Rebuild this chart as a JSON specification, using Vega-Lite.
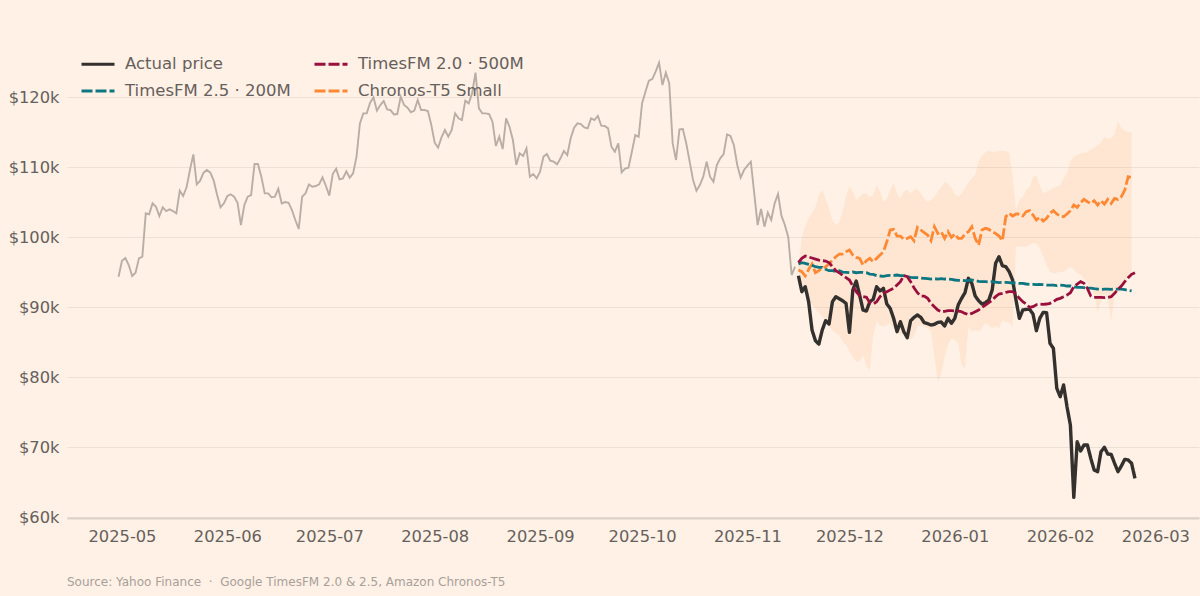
{
"$schema":"https://vega.github.io/schema/vega-lite/v6.json",
"description":"Bitcoin price vs TimesFM and Chronos forecasts",
"autosize":"none",
"width":1132,
"height":476,
"padding":{"left":67,"top":42,"right":1,"bottom":78},
"background":"#fff1e5",
"title":{"text":"Source: Yahoo Finance \u00a0·\u00a0 Google TimesFM 2.0 & 2.5, Amazon Chronos-T5","orient":"bottom","anchor":"start","frame":"group","offset":33,"fontSize":12,"fontWeight":"normal","color":"#a8a099","font":"DejaVu Sans"},
"config":{"font":"DejaVu Sans","view":{"stroke":null}},
"datasets":{
"history":[
{"date":"2025-04-30","k":94.33},{"date":"2025-05-01","k":96.62},{"date":"2025-05-02","k":97.0},{"date":"2025-05-03","k":96.0},{"date":"2025-05-04","k":94.43},{"date":"2025-05-05","k":94.9},{"date":"2025-05-06","k":96.95},{"date":"2025-05-07","k":97.19},{"date":"2025-05-08","k":103.38},{"date":"2025-05-09","k":103.24},{"date":"2025-05-10","k":104.81},{"date":"2025-05-11","k":104.33},{"date":"2025-05-12","k":103.0},{"date":"2025-05-13","k":104.24},{"date":"2025-05-14","k":103.71},{"date":"2025-05-15","k":103.95},{"date":"2025-05-16","k":103.71},{"date":"2025-05-17","k":103.38},{"date":"2025-05-18","k":106.62},{"date":"2025-05-19","k":105.86},{"date":"2025-05-20","k":107.1},{"date":"2025-05-21","k":109.57},{"date":"2025-05-22","k":111.81},{"date":"2025-05-23","k":107.52},{"date":"2025-05-24","k":108.05},{"date":"2025-05-25","k":109.19},{"date":"2025-05-26","k":109.57},{"date":"2025-05-27","k":109.19},{"date":"2025-05-28","k":108.05},{"date":"2025-05-29","k":106.0},{"date":"2025-05-30","k":104.24},{"date":"2025-05-31","k":104.81},
{"date":"2025-06-01","k":105.86},{"date":"2025-06-02","k":106.1},{"date":"2025-06-03","k":105.76},{"date":"2025-06-04","k":104.9},{"date":"2025-06-05","k":101.71},{"date":"2025-06-06","k":104.57},{"date":"2025-06-07","k":105.76},{"date":"2025-06-08","k":106.0},{"date":"2025-06-09","k":110.43},{"date":"2025-06-10","k":110.43},{"date":"2025-06-11","k":108.62},{"date":"2025-06-12","k":106.24},{"date":"2025-06-13","k":106.24},{"date":"2025-06-14","k":105.67},{"date":"2025-06-15","k":105.76},{"date":"2025-06-16","k":106.9},{"date":"2025-06-17","k":104.81},{"date":"2025-06-18","k":105.0},{"date":"2025-06-19","k":104.9},{"date":"2025-06-20","k":103.86},{"date":"2025-06-21","k":102.43},{"date":"2025-06-22","k":101.14},{"date":"2025-06-23","k":105.76},{"date":"2025-06-24","k":106.24},{"date":"2025-06-25","k":107.52},{"date":"2025-06-26","k":107.19},{"date":"2025-06-27","k":107.29},{"date":"2025-06-28","k":107.52},{"date":"2025-06-29","k":108.52},{"date":"2025-06-30","k":107.29},
{"date":"2025-07-01","k":105.9},{"date":"2025-07-02","k":109.0},{"date":"2025-07-03","k":109.76},{"date":"2025-07-04","k":108.24},{"date":"2025-07-05","k":108.38},{"date":"2025-07-06","k":109.38},{"date":"2025-07-07","k":108.48},{"date":"2025-07-08","k":109.1},{"date":"2025-07-09","k":111.48},{"date":"2025-07-10","k":116.24},{"date":"2025-07-11","k":117.67},{"date":"2025-07-12","k":117.67},{"date":"2025-07-13","k":119.19},{"date":"2025-07-14","k":119.95},{"date":"2025-07-15","k":118.05},{"date":"2025-07-16","k":118.86},{"date":"2025-07-17","k":119.43},{"date":"2025-07-18","k":118.24},{"date":"2025-07-19","k":118.14},{"date":"2025-07-20","k":117.52},{"date":"2025-07-21","k":117.57},{"date":"2025-07-22","k":120.05},{"date":"2025-07-23","k":118.86},{"date":"2025-07-24","k":118.48},{"date":"2025-07-25","k":117.81},{"date":"2025-07-26","k":118.05},{"date":"2025-07-27","k":119.57},{"date":"2025-07-28","k":118.14},{"date":"2025-07-29","k":118.14},{"date":"2025-07-30","k":118.0},{"date":"2025-07-31","k":116.0},
{"date":"2025-08-01","k":113.48},{"date":"2025-08-02","k":112.76},{"date":"2025-08-03","k":114.24},{"date":"2025-08-04","k":115.29},{"date":"2025-08-05","k":114.33},{"date":"2025-08-06","k":115.29},{"date":"2025-08-07","k":117.67},{"date":"2025-08-08","k":116.95},{"date":"2025-08-09","k":116.71},{"date":"2025-08-10","k":119.48},{"date":"2025-08-11","k":119.1},{"date":"2025-08-12","k":120.52},{"date":"2025-08-13","k":123.48},{"date":"2025-08-14","k":118.38},{"date":"2025-08-15","k":117.67},{"date":"2025-08-16","k":117.67},{"date":"2025-08-17","k":117.57},{"date":"2025-08-18","k":116.48},{"date":"2025-08-19","k":113.0},{"date":"2025-08-20","k":114.33},{"date":"2025-08-21","k":112.57},{"date":"2025-08-22","k":116.95},{"date":"2025-08-23","k":115.76},{"date":"2025-08-24","k":113.86},{"date":"2025-08-25","k":110.29},{"date":"2025-08-26","k":111.95},{"date":"2025-08-27","k":111.57},{"date":"2025-08-28","k":112.67},{"date":"2025-08-29","k":108.62},{"date":"2025-08-30","k":109.0},{"date":"2025-08-31","k":108.38},
{"date":"2025-09-01","k":109.33},{"date":"2025-09-02","k":111.48},{"date":"2025-09-03","k":111.86},{"date":"2025-09-04","k":110.9},{"date":"2025-09-05","k":110.76},{"date":"2025-09-06","k":110.38},{"date":"2025-09-07","k":111.24},{"date":"2025-09-08","k":112.29},{"date":"2025-09-09","k":111.71},{"date":"2025-09-10","k":114.1},{"date":"2025-09-11","k":115.62},{"date":"2025-09-12","k":116.24},{"date":"2025-09-13","k":116.14},{"date":"2025-09-14","k":115.67},{"date":"2025-09-15","k":115.52},{"date":"2025-09-16","k":116.95},{"date":"2025-09-17","k":116.71},{"date":"2025-09-18","k":117.29},{"date":"2025-09-19","k":115.9},{"date":"2025-09-20","k":115.86},{"date":"2025-09-21","k":115.52},{"date":"2025-09-22","k":112.9},{"date":"2025-09-23","k":112.19},{"date":"2025-09-24","k":113.38},{"date":"2025-09-25","k":109.24},{"date":"2025-09-26","k":109.76},{"date":"2025-09-27","k":109.9},{"date":"2025-09-28","k":112.19},{"date":"2025-09-29","k":114.57},{"date":"2025-09-30","k":114.33},
{"date":"2025-10-01","k":119.1},{"date":"2025-10-02","k":120.76},{"date":"2025-10-03","k":122.33},{"date":"2025-10-04","k":122.57},{"date":"2025-10-05","k":123.62},{"date":"2025-10-06","k":124.9},{"date":"2025-10-07","k":121.71},{"date":"2025-10-08","k":123.48},{"date":"2025-10-09","k":121.95},{"date":"2025-10-10","k":113.38},{"date":"2025-10-11","k":111.0},{"date":"2025-10-12","k":115.38},{"date":"2025-10-13","k":115.43},{"date":"2025-10-14","k":113.38},{"date":"2025-10-15","k":110.76},{"date":"2025-10-16","k":108.14},{"date":"2025-10-17","k":106.62},{"date":"2025-10-18","k":107.43},{"date":"2025-10-19","k":108.62},{"date":"2025-10-20","k":110.76},{"date":"2025-10-21","k":108.62},{"date":"2025-10-22","k":107.9},{"date":"2025-10-23","k":110.29},{"date":"2025-10-24","k":111.24},{"date":"2025-10-25","k":111.86},{"date":"2025-10-26","k":114.67},{"date":"2025-10-27","k":114.43},{"date":"2025-10-28","k":113.14},{"date":"2025-10-29","k":110.29},{"date":"2025-10-30","k":108.48},{"date":"2025-10-31","k":109.57},
{"date":"2025-11-01","k":110.19},{"date":"2025-11-02","k":110.76},{"date":"2025-11-03","k":106.24},{"date":"2025-11-04","k":101.71},{"date":"2025-11-05","k":104.0},{"date":"2025-11-06","k":101.48},{"date":"2025-11-07","k":103.48},{"date":"2025-11-08","k":102.43},{"date":"2025-11-09","k":104.81},{"date":"2025-11-10","k":106.14},{"date":"2025-11-11","k":103.05},{"date":"2025-11-12","k":101.71},{"date":"2025-11-13","k":100.0},{"date":"2025-11-14","k":94.57},{"date":"2025-11-15","k":95.76}
],
"actual":[
{"date":"2025-11-16","k":94.47,"model":"Actual price"},{"date":"2025-11-17","k":92.19,"model":"Actual price"},{"date":"2025-11-18","k":92.9,"model":"Actual price"},{"date":"2025-11-19","k":90.76,"model":"Actual price"},{"date":"2025-11-20","k":86.71,"model":"Actual price"},{"date":"2025-11-21","k":85.19,"model":"Actual price"},{"date":"2025-11-22","k":84.71,"model":"Actual price"},{"date":"2025-11-23","k":86.71,"model":"Actual price"},{"date":"2025-11-24","k":88.05,"model":"Actual price"},{"date":"2025-11-25","k":87.57,"model":"Actual price"},{"date":"2025-11-26","k":90.76,"model":"Actual price"},{"date":"2025-11-27","k":91.48,"model":"Actual price"},{"date":"2025-11-28","k":91.19,"model":"Actual price"},{"date":"2025-11-29","k":90.9,"model":"Actual price"},{"date":"2025-11-30","k":90.52,"model":"Actual price"},
{"date":"2025-12-01","k":86.38,"model":"Actual price"},{"date":"2025-12-02","k":92.43,"model":"Actual price"},{"date":"2025-12-03","k":93.71,"model":"Actual price"},{"date":"2025-12-04","k":91.71,"model":"Actual price"},{"date":"2025-12-05","k":89.57,"model":"Actual price"},{"date":"2025-12-06","k":89.43,"model":"Actual price"},{"date":"2025-12-07","k":90.76,"model":"Actual price"},{"date":"2025-12-08","k":91.1,"model":"Actual price"},{"date":"2025-12-09","k":92.9,"model":"Actual price"},{"date":"2025-12-10","k":92.29,"model":"Actual price"},{"date":"2025-12-11","k":92.67,"model":"Actual price"},{"date":"2025-12-12","k":90.43,"model":"Actual price"},{"date":"2025-12-13","k":89.8,"model":"Actual price"},{"date":"2025-12-14","k":88.38,"model":"Actual price"},{"date":"2025-12-15","k":86.48,"model":"Actual price"},{"date":"2025-12-16","k":87.9,"model":"Actual price"},{"date":"2025-12-17","k":86.48,"model":"Actual price"},{"date":"2025-12-18","k":85.62,"model":"Actual price"},{"date":"2025-12-19","k":88.05,"model":"Actual price"},{"date":"2025-12-20","k":88.52,"model":"Actual price"},{"date":"2025-12-21","k":88.86,"model":"Actual price"},{"date":"2025-12-22","k":88.52,"model":"Actual price"},{"date":"2025-12-23","k":87.76,"model":"Actual price"},{"date":"2025-12-24","k":87.62,"model":"Actual price"},{"date":"2025-12-25","k":87.43,"model":"Actual price"},{"date":"2025-12-26","k":87.52,"model":"Actual price"},{"date":"2025-12-27","k":87.81,"model":"Actual price"},{"date":"2025-12-28","k":87.86,"model":"Actual price"},{"date":"2025-12-29","k":87.29,"model":"Actual price"},{"date":"2025-12-30","k":88.38,"model":"Actual price"},{"date":"2025-12-31","k":87.67,"model":"Actual price"},
{"date":"2026-01-01","k":88.38,"model":"Actual price"},{"date":"2026-01-02","k":90.3,"model":"Actual price"},{"date":"2026-01-03","k":91.24,"model":"Actual price"},{"date":"2026-01-04","k":92.05,"model":"Actual price"},{"date":"2026-01-05","k":94.1,"model":"Actual price"},{"date":"2026-01-06","k":93.38,"model":"Actual price"},{"date":"2026-01-07","k":91.57,"model":"Actual price"},{"date":"2026-01-08","k":90.9,"model":"Actual price"},{"date":"2026-01-09","k":90.43,"model":"Actual price"},{"date":"2026-01-10","k":90.62,"model":"Actual price"},{"date":"2026-01-11","k":91.0,"model":"Actual price"},{"date":"2026-01-12","k":92.43,"model":"Actual price"},{"date":"2026-01-13","k":96.24,"model":"Actual price"},{"date":"2026-01-14","k":97.19,"model":"Actual price"},{"date":"2026-01-15","k":95.9,"model":"Actual price"},{"date":"2026-01-16","k":95.76,"model":"Actual price"},{"date":"2026-01-17","k":95.05,"model":"Actual price"},{"date":"2026-01-18","k":93.86,"model":"Actual price"},{"date":"2026-01-19","k":91.0,"model":"Actual price"},{"date":"2026-01-20","k":88.38,"model":"Actual price"},{"date":"2026-01-21","k":89.57,"model":"Actual price"},{"date":"2026-01-22","k":89.67,"model":"Actual price"},{"date":"2026-01-23","k":89.67,"model":"Actual price"},{"date":"2026-01-24","k":89.0,"model":"Actual price"},{"date":"2026-01-25","k":86.62,"model":"Actual price"},{"date":"2026-01-26","k":88.38,"model":"Actual price"},{"date":"2026-01-27","k":89.24,"model":"Actual price"},{"date":"2026-01-28","k":89.19,"model":"Actual price"},{"date":"2026-01-29","k":84.81,"model":"Actual price"},{"date":"2026-01-30","k":84.1,"model":"Actual price"},{"date":"2026-01-31","k":78.38,"model":"Actual price"},
{"date":"2026-02-01","k":77.19,"model":"Actual price"},{"date":"2026-02-02","k":78.86,"model":"Actual price"},{"date":"2026-02-03","k":75.76,"model":"Actual price"},{"date":"2026-02-04","k":73.14,"model":"Actual price"},{"date":"2026-02-05","k":62.81,"model":"Actual price"},{"date":"2026-02-06","k":70.76,"model":"Actual price"},{"date":"2026-02-07","k":69.43,"model":"Actual price"},{"date":"2026-02-08","k":70.29,"model":"Actual price"},{"date":"2026-02-09","k":70.29,"model":"Actual price"},{"date":"2026-02-10","k":68.38,"model":"Actual price"},{"date":"2026-02-11","k":66.71,"model":"Actual price"},{"date":"2026-02-12","k":66.48,"model":"Actual price"},{"date":"2026-02-13","k":69.33,"model":"Actual price"},{"date":"2026-02-14","k":69.95,"model":"Actual price"},{"date":"2026-02-15","k":69.0,"model":"Actual price"},{"date":"2026-02-16","k":68.95,"model":"Actual price"},{"date":"2026-02-17","k":67.67,"model":"Actual price"},{"date":"2026-02-18","k":66.48,"model":"Actual price"},{"date":"2026-02-19","k":67.29,"model":"Actual price"},{"date":"2026-02-20","k":68.24,"model":"Actual price"},{"date":"2026-02-21","k":68.14,"model":"Actual price"},{"date":"2026-02-22","k":67.67,"model":"Actual price"},{"date":"2026-02-23","k":65.52,"model":"Actual price"}
],
"forecasts":[
{"date":"2025-11-16","k":95.28,"model":"Chronos-T5 Small"},{"date":"2025-11-17","k":95.05,"model":"Chronos-T5 Small"},{"date":"2025-11-18","k":94.43,"model":"Chronos-T5 Small"},{"date":"2025-11-19","k":95.38,"model":"Chronos-T5 Small"},{"date":"2025-11-20","k":96.14,"model":"Chronos-T5 Small"},{"date":"2025-11-21","k":94.9,"model":"Chronos-T5 Small"},{"date":"2025-11-22","k":95.19,"model":"Chronos-T5 Small"},{"date":"2025-11-23","k":95.52,"model":"Chronos-T5 Small"},{"date":"2025-11-24","k":95.76,"model":"Chronos-T5 Small"},{"date":"2025-11-25","k":96.14,"model":"Chronos-T5 Small"},{"date":"2025-11-26","k":96.71,"model":"Chronos-T5 Small"},{"date":"2025-11-27","k":97.19,"model":"Chronos-T5 Small"},{"date":"2025-11-28","k":97.57,"model":"Chronos-T5 Small"},{"date":"2025-11-29","k":97.57,"model":"Chronos-T5 Small"},{"date":"2025-11-30","k":97.9,"model":"Chronos-T5 Small"},
{"date":"2025-12-01","k":98.14,"model":"Chronos-T5 Small"},{"date":"2025-12-02","k":97.43,"model":"Chronos-T5 Small"},{"date":"2025-12-03","k":97.09,"model":"Chronos-T5 Small"},{"date":"2025-12-04","k":96.95,"model":"Chronos-T5 Small"},{"date":"2025-12-05","k":96.0,"model":"Chronos-T5 Small"},{"date":"2025-12-06","k":96.62,"model":"Chronos-T5 Small"},{"date":"2025-12-07","k":96.95,"model":"Chronos-T5 Small"},{"date":"2025-12-08","k":96.48,"model":"Chronos-T5 Small"},{"date":"2025-12-09","k":96.95,"model":"Chronos-T5 Small"},{"date":"2025-12-10","k":97.43,"model":"Chronos-T5 Small"},{"date":"2025-12-11","k":97.9,"model":"Chronos-T5 Small"},{"date":"2025-12-12","k":99.33,"model":"Chronos-T5 Small"},{"date":"2025-12-13","k":101.0,"model":"Chronos-T5 Small"},{"date":"2025-12-14","k":101.1,"model":"Chronos-T5 Small"},{"date":"2025-12-15","k":100.14,"model":"Chronos-T5 Small"},{"date":"2025-12-16","k":100.14,"model":"Chronos-T5 Small"},{"date":"2025-12-17","k":99.67,"model":"Chronos-T5 Small"},{"date":"2025-12-18","k":99.81,"model":"Chronos-T5 Small"},{"date":"2025-12-19","k":100.05,"model":"Chronos-T5 Small"},{"date":"2025-12-20","k":99.48,"model":"Chronos-T5 Small"},{"date":"2025-12-21","k":101.38,"model":"Chronos-T5 Small"},{"date":"2025-12-22","k":101.0,"model":"Chronos-T5 Small"},{"date":"2025-12-23","k":100.62,"model":"Chronos-T5 Small"},{"date":"2025-12-24","k":100.29,"model":"Chronos-T5 Small"},{"date":"2025-12-25","k":99.48,"model":"Chronos-T5 Small"},{"date":"2025-12-26","k":101.48,"model":"Chronos-T5 Small"},{"date":"2025-12-27","k":100.52,"model":"Chronos-T5 Small"},{"date":"2025-12-28","k":100.76,"model":"Chronos-T5 Small"},{"date":"2025-12-29","k":99.81,"model":"Chronos-T5 Small"},{"date":"2025-12-30","k":100.76,"model":"Chronos-T5 Small"},{"date":"2025-12-31","k":99.95,"model":"Chronos-T5 Small"},
{"date":"2026-01-01","k":100.43,"model":"Chronos-T5 Small"},{"date":"2026-01-02","k":99.81,"model":"Chronos-T5 Small"},{"date":"2026-01-03","k":99.81,"model":"Chronos-T5 Small"},{"date":"2026-01-04","k":100.43,"model":"Chronos-T5 Small"},{"date":"2026-01-05","k":100.76,"model":"Chronos-T5 Small"},{"date":"2026-01-06","k":101.48,"model":"Chronos-T5 Small"},{"date":"2026-01-07","k":99.81,"model":"Chronos-T5 Small"},{"date":"2026-01-08","k":98.86,"model":"Chronos-T5 Small"},{"date":"2026-01-09","k":101.0,"model":"Chronos-T5 Small"},{"date":"2026-01-10","k":101.24,"model":"Chronos-T5 Small"},{"date":"2026-01-11","k":101.1,"model":"Chronos-T5 Small"},{"date":"2026-01-12","k":100.76,"model":"Chronos-T5 Small"},{"date":"2026-01-13","k":100.52,"model":"Chronos-T5 Small"},{"date":"2026-01-14","k":100.14,"model":"Chronos-T5 Small"},{"date":"2026-01-15","k":99.48,"model":"Chronos-T5 Small"},{"date":"2026-01-16","k":102.9,"model":"Chronos-T5 Small"},{"date":"2026-01-17","k":103.38,"model":"Chronos-T5 Small"},{"date":"2026-01-18","k":103.0,"model":"Chronos-T5 Small"},{"date":"2026-01-19","k":103.29,"model":"Chronos-T5 Small"},{"date":"2026-01-20","k":103.29,"model":"Chronos-T5 Small"},{"date":"2026-01-21","k":103.0,"model":"Chronos-T5 Small"},{"date":"2026-01-22","k":103.62,"model":"Chronos-T5 Small"},{"date":"2026-01-23","k":103.76,"model":"Chronos-T5 Small"},{"date":"2026-01-24","k":103.14,"model":"Chronos-T5 Small"},{"date":"2026-01-25","k":102.43,"model":"Chronos-T5 Small"},{"date":"2026-01-26","k":102.81,"model":"Chronos-T5 Small"},{"date":"2026-01-27","k":102.29,"model":"Chronos-T5 Small"},{"date":"2026-01-28","k":102.67,"model":"Chronos-T5 Small"},{"date":"2026-01-29","k":103.38,"model":"Chronos-T5 Small"},{"date":"2026-01-30","k":103.76,"model":"Chronos-T5 Small"},{"date":"2026-01-31","k":103.29,"model":"Chronos-T5 Small"},
{"date":"2026-02-01","k":103.0,"model":"Chronos-T5 Small"},{"date":"2026-02-02","k":102.9,"model":"Chronos-T5 Small"},{"date":"2026-02-03","k":103.29,"model":"Chronos-T5 Small"},{"date":"2026-02-04","k":103.76,"model":"Chronos-T5 Small"},{"date":"2026-02-05","k":104.57,"model":"Chronos-T5 Small"},{"date":"2026-02-06","k":104.24,"model":"Chronos-T5 Small"},{"date":"2026-02-07","k":104.9,"model":"Chronos-T5 Small"},{"date":"2026-02-08","k":105.38,"model":"Chronos-T5 Small"},{"date":"2026-02-09","k":105.05,"model":"Chronos-T5 Small"},{"date":"2026-02-10","k":104.81,"model":"Chronos-T5 Small"},{"date":"2026-02-11","k":105.19,"model":"Chronos-T5 Small"},{"date":"2026-02-12","k":104.57,"model":"Chronos-T5 Small"},{"date":"2026-02-13","k":105.19,"model":"Chronos-T5 Small"},{"date":"2026-02-14","k":104.71,"model":"Chronos-T5 Small"},{"date":"2026-02-15","k":105.38,"model":"Chronos-T5 Small"},{"date":"2026-02-16","k":104.81,"model":"Chronos-T5 Small"},{"date":"2026-02-17","k":105.52,"model":"Chronos-T5 Small"},{"date":"2026-02-18","k":105.38,"model":"Chronos-T5 Small"},{"date":"2026-02-19","k":105.76,"model":"Chronos-T5 Small"},{"date":"2026-02-20","k":106.71,"model":"Chronos-T5 Small"},{"date":"2026-02-21","k":108.62,"model":"Chronos-T5 Small"},{"date":"2026-02-22","k":108.48,"model":"Chronos-T5 Small"},

{"date":"2025-11-16","k":96.14,"model":"TimesFM 2.5 · 200M"},{"date":"2025-11-17","k":96.33,"model":"TimesFM 2.5 · 200M"},{"date":"2025-11-18","k":96.24,"model":"TimesFM 2.5 · 200M"},{"date":"2025-11-19","k":96.09,"model":"TimesFM 2.5 · 200M"},{"date":"2025-11-20","k":95.95,"model":"TimesFM 2.5 · 200M"},{"date":"2025-11-21","k":95.76,"model":"TimesFM 2.5 · 200M"},{"date":"2025-11-22","k":95.67,"model":"TimesFM 2.5 · 200M"},{"date":"2025-11-23","k":95.67,"model":"TimesFM 2.5 · 200M"},{"date":"2025-11-24","k":95.38,"model":"TimesFM 2.5 · 200M"},{"date":"2025-11-25","k":95.19,"model":"TimesFM 2.5 · 200M"},{"date":"2025-11-26","k":95.19,"model":"TimesFM 2.5 · 200M"},{"date":"2025-11-27","k":95.09,"model":"TimesFM 2.5 · 200M"},{"date":"2025-11-28","k":95.19,"model":"TimesFM 2.5 · 200M"},{"date":"2025-11-29","k":95.0,"model":"TimesFM 2.5 · 200M"},{"date":"2025-11-30","k":94.95,"model":"TimesFM 2.5 · 200M"},
{"date":"2025-12-01","k":94.9,"model":"TimesFM 2.5 · 200M"},{"date":"2025-12-02","k":95.0,"model":"TimesFM 2.5 · 200M"},{"date":"2025-12-03","k":94.9,"model":"TimesFM 2.5 · 200M"},{"date":"2025-12-04","k":94.95,"model":"TimesFM 2.5 · 200M"},{"date":"2025-12-05","k":94.95,"model":"TimesFM 2.5 · 200M"},{"date":"2025-12-06","k":94.9,"model":"TimesFM 2.5 · 200M"},{"date":"2025-12-07","k":94.71,"model":"TimesFM 2.5 · 200M"},{"date":"2025-12-08","k":94.67,"model":"TimesFM 2.5 · 200M"},{"date":"2025-12-09","k":94.48,"model":"TimesFM 2.5 · 200M"},{"date":"2025-12-10","k":94.43,"model":"TimesFM 2.5 · 200M"},{"date":"2025-12-11","k":94.38,"model":"TimesFM 2.5 · 200M"},{"date":"2025-12-12","k":94.48,"model":"TimesFM 2.5 · 200M"},{"date":"2025-12-13","k":94.52,"model":"TimesFM 2.5 · 200M"},{"date":"2025-12-14","k":94.52,"model":"TimesFM 2.5 · 200M"},{"date":"2025-12-15","k":94.57,"model":"TimesFM 2.5 · 200M"},{"date":"2025-12-16","k":94.48,"model":"TimesFM 2.5 · 200M"},{"date":"2025-12-17","k":94.48,"model":"TimesFM 2.5 · 200M"},{"date":"2025-12-18","k":94.33,"model":"TimesFM 2.5 · 200M"},{"date":"2025-12-19","k":94.24,"model":"TimesFM 2.5 · 200M"},{"date":"2025-12-20","k":94.19,"model":"TimesFM 2.5 · 200M"},{"date":"2025-12-21","k":94.19,"model":"TimesFM 2.5 · 200M"},{"date":"2025-12-22","k":94.14,"model":"TimesFM 2.5 · 200M"},{"date":"2025-12-23","k":94.09,"model":"TimesFM 2.5 · 200M"},{"date":"2025-12-24","k":94.05,"model":"TimesFM 2.5 · 200M"},{"date":"2025-12-25","k":94.0,"model":"TimesFM 2.5 · 200M"},{"date":"2025-12-26","k":94.05,"model":"TimesFM 2.5 · 200M"},{"date":"2025-12-27","k":94.0,"model":"TimesFM 2.5 · 200M"},{"date":"2025-12-28","k":94.05,"model":"TimesFM 2.5 · 200M"},{"date":"2025-12-29","k":94.0,"model":"TimesFM 2.5 · 200M"},{"date":"2025-12-30","k":94.0,"model":"TimesFM 2.5 · 200M"},{"date":"2025-12-31","k":93.95,"model":"TimesFM 2.5 · 200M"},
{"date":"2026-01-01","k":93.86,"model":"TimesFM 2.5 · 200M"},{"date":"2026-01-02","k":93.81,"model":"TimesFM 2.5 · 200M"},{"date":"2026-01-03","k":93.81,"model":"TimesFM 2.5 · 200M"},{"date":"2026-01-04","k":93.76,"model":"TimesFM 2.5 · 200M"},{"date":"2026-01-05","k":93.76,"model":"TimesFM 2.5 · 200M"},{"date":"2026-01-06","k":93.86,"model":"TimesFM 2.5 · 200M"},{"date":"2026-01-07","k":93.76,"model":"TimesFM 2.5 · 200M"},{"date":"2026-01-08","k":93.67,"model":"TimesFM 2.5 · 200M"},{"date":"2026-01-09","k":93.62,"model":"TimesFM 2.5 · 200M"},{"date":"2026-01-10","k":93.62,"model":"TimesFM 2.5 · 200M"},{"date":"2026-01-11","k":93.57,"model":"TimesFM 2.5 · 200M"},{"date":"2026-01-12","k":93.62,"model":"TimesFM 2.5 · 200M"},{"date":"2026-01-13","k":93.57,"model":"TimesFM 2.5 · 200M"},{"date":"2026-01-14","k":93.48,"model":"TimesFM 2.5 · 200M"},{"date":"2026-01-15","k":93.52,"model":"TimesFM 2.5 · 200M"},{"date":"2026-01-16","k":93.52,"model":"TimesFM 2.5 · 200M"},{"date":"2026-01-17","k":93.48,"model":"TimesFM 2.5 · 200M"},{"date":"2026-01-18","k":93.43,"model":"TimesFM 2.5 · 200M"},{"date":"2026-01-19","k":93.43,"model":"TimesFM 2.5 · 200M"},{"date":"2026-01-20","k":93.38,"model":"TimesFM 2.5 · 200M"},{"date":"2026-01-21","k":93.38,"model":"TimesFM 2.5 · 200M"},{"date":"2026-01-22","k":93.29,"model":"TimesFM 2.5 · 200M"},{"date":"2026-01-23","k":93.24,"model":"TimesFM 2.5 · 200M"},{"date":"2026-01-24","k":93.24,"model":"TimesFM 2.5 · 200M"},{"date":"2026-01-25","k":93.19,"model":"TimesFM 2.5 · 200M"},{"date":"2026-01-26","k":93.24,"model":"TimesFM 2.5 · 200M"},{"date":"2026-01-27","k":93.19,"model":"TimesFM 2.5 · 200M"},{"date":"2026-01-28","k":93.14,"model":"TimesFM 2.5 · 200M"},{"date":"2026-01-29","k":93.14,"model":"TimesFM 2.5 · 200M"},{"date":"2026-01-30","k":93.14,"model":"TimesFM 2.5 · 200M"},{"date":"2026-01-31","k":93.05,"model":"TimesFM 2.5 · 200M"},
{"date":"2026-02-01","k":93.14,"model":"TimesFM 2.5 · 200M"},{"date":"2026-02-02","k":93.09,"model":"TimesFM 2.5 · 200M"},{"date":"2026-02-03","k":93.0,"model":"TimesFM 2.5 · 200M"},{"date":"2026-02-04","k":93.0,"model":"TimesFM 2.5 · 200M"},{"date":"2026-02-05","k":92.9,"model":"TimesFM 2.5 · 200M"},{"date":"2026-02-06","k":92.81,"model":"TimesFM 2.5 · 200M"},{"date":"2026-02-07","k":92.81,"model":"TimesFM 2.5 · 200M"},{"date":"2026-02-08","k":92.76,"model":"TimesFM 2.5 · 200M"},{"date":"2026-02-09","k":92.71,"model":"TimesFM 2.5 · 200M"},{"date":"2026-02-10","k":92.71,"model":"TimesFM 2.5 · 200M"},{"date":"2026-02-11","k":92.62,"model":"TimesFM 2.5 · 200M"},{"date":"2026-02-12","k":92.57,"model":"TimesFM 2.5 · 200M"},{"date":"2026-02-13","k":92.52,"model":"TimesFM 2.5 · 200M"},{"date":"2026-02-14","k":92.57,"model":"TimesFM 2.5 · 200M"},{"date":"2026-02-15","k":92.57,"model":"TimesFM 2.5 · 200M"},{"date":"2026-02-16","k":92.52,"model":"TimesFM 2.5 · 200M"},{"date":"2026-02-17","k":92.57,"model":"TimesFM 2.5 · 200M"},{"date":"2026-02-18","k":92.57,"model":"TimesFM 2.5 · 200M"},{"date":"2026-02-19","k":92.57,"model":"TimesFM 2.5 · 200M"},{"date":"2026-02-20","k":92.48,"model":"TimesFM 2.5 · 200M"},{"date":"2026-02-21","k":92.38,"model":"TimesFM 2.5 · 200M"},{"date":"2026-02-22","k":92.29,"model":"TimesFM 2.5 · 200M"},

{"date":"2025-11-16","k":96.33,"model":"TimesFM 2.0 · 500M"},{"date":"2025-11-17","k":96.95,"model":"TimesFM 2.0 · 500M"},{"date":"2025-11-18","k":97.28,"model":"TimesFM 2.0 · 500M"},{"date":"2025-11-19","k":97.14,"model":"TimesFM 2.0 · 500M"},{"date":"2025-11-20","k":97.0,"model":"TimesFM 2.0 · 500M"},{"date":"2025-11-21","k":96.85,"model":"TimesFM 2.0 · 500M"},{"date":"2025-11-22","k":96.71,"model":"TimesFM 2.0 · 500M"},{"date":"2025-11-23","k":96.62,"model":"TimesFM 2.0 · 500M"},{"date":"2025-11-24","k":96.57,"model":"TimesFM 2.0 · 500M"},{"date":"2025-11-25","k":96.33,"model":"TimesFM 2.0 · 500M"},{"date":"2025-11-26","k":95.76,"model":"TimesFM 2.0 · 500M"},{"date":"2025-11-27","k":95.19,"model":"TimesFM 2.0 · 500M"},{"date":"2025-11-28","k":94.9,"model":"TimesFM 2.0 · 500M"},{"date":"2025-11-29","k":94.52,"model":"TimesFM 2.0 · 500M"},{"date":"2025-11-30","k":94.19,"model":"TimesFM 2.0 · 500M"},
{"date":"2025-12-01","k":93.86,"model":"TimesFM 2.0 · 500M"},{"date":"2025-12-02","k":93.0,"model":"TimesFM 2.0 · 500M"},{"date":"2025-12-03","k":92.19,"model":"TimesFM 2.0 · 500M"},{"date":"2025-12-04","k":91.62,"model":"TimesFM 2.0 · 500M"},{"date":"2025-12-05","k":91.48,"model":"TimesFM 2.0 · 500M"},{"date":"2025-12-06","k":91.38,"model":"TimesFM 2.0 · 500M"},{"date":"2025-12-07","k":90.62,"model":"TimesFM 2.0 · 500M"},{"date":"2025-12-08","k":90.43,"model":"TimesFM 2.0 · 500M"},{"date":"2025-12-09","k":90.76,"model":"TimesFM 2.0 · 500M"},{"date":"2025-12-10","k":91.48,"model":"TimesFM 2.0 · 500M"},{"date":"2025-12-11","k":91.95,"model":"TimesFM 2.0 · 500M"},{"date":"2025-12-12","k":92.19,"model":"TimesFM 2.0 · 500M"},{"date":"2025-12-13","k":92.43,"model":"TimesFM 2.0 · 500M"},{"date":"2025-12-14","k":92.67,"model":"TimesFM 2.0 · 500M"},{"date":"2025-12-15","k":93.14,"model":"TimesFM 2.0 · 500M"},{"date":"2025-12-16","k":93.62,"model":"TimesFM 2.0 · 500M"},{"date":"2025-12-17","k":94.48,"model":"TimesFM 2.0 · 500M"},{"date":"2025-12-18","k":94.33,"model":"TimesFM 2.0 · 500M"},{"date":"2025-12-19","k":93.62,"model":"TimesFM 2.0 · 500M"},{"date":"2025-12-20","k":92.76,"model":"TimesFM 2.0 · 500M"},{"date":"2025-12-21","k":92.05,"model":"TimesFM 2.0 · 500M"},{"date":"2025-12-22","k":91.57,"model":"TimesFM 2.0 · 500M"},{"date":"2025-12-23","k":91.57,"model":"TimesFM 2.0 · 500M"},{"date":"2025-12-24","k":91.24,"model":"TimesFM 2.0 · 500M"},{"date":"2025-12-25","k":90.52,"model":"TimesFM 2.0 · 500M"},{"date":"2025-12-26","k":90.05,"model":"TimesFM 2.0 · 500M"},{"date":"2025-12-27","k":89.57,"model":"TimesFM 2.0 · 500M"},{"date":"2025-12-28","k":89.33,"model":"TimesFM 2.0 · 500M"},{"date":"2025-12-29","k":89.38,"model":"TimesFM 2.0 · 500M"},{"date":"2025-12-30","k":89.48,"model":"TimesFM 2.0 · 500M"},{"date":"2025-12-31","k":89.48,"model":"TimesFM 2.0 · 500M"},
{"date":"2026-01-01","k":89.43,"model":"TimesFM 2.0 · 500M"},{"date":"2026-01-02","k":89.43,"model":"TimesFM 2.0 · 500M"},{"date":"2026-01-03","k":89.33,"model":"TimesFM 2.0 · 500M"},{"date":"2026-01-04","k":89.09,"model":"TimesFM 2.0 · 500M"},{"date":"2026-01-05","k":88.9,"model":"TimesFM 2.0 · 500M"},{"date":"2026-01-06","k":89.09,"model":"TimesFM 2.0 · 500M"},{"date":"2026-01-07","k":89.33,"model":"TimesFM 2.0 · 500M"},{"date":"2026-01-08","k":89.57,"model":"TimesFM 2.0 · 500M"},{"date":"2026-01-09","k":89.95,"model":"TimesFM 2.0 · 500M"},{"date":"2026-01-10","k":90.28,"model":"TimesFM 2.0 · 500M"},{"date":"2026-01-11","k":90.62,"model":"TimesFM 2.0 · 500M"},{"date":"2026-01-12","k":91.0,"model":"TimesFM 2.0 · 500M"},{"date":"2026-01-13","k":91.48,"model":"TimesFM 2.0 · 500M"},{"date":"2026-01-14","k":91.86,"model":"TimesFM 2.0 · 500M"},{"date":"2026-01-15","k":91.95,"model":"TimesFM 2.0 · 500M"},{"date":"2026-01-16","k":92.09,"model":"TimesFM 2.0 · 500M"},{"date":"2026-01-17","k":92.19,"model":"TimesFM 2.0 · 500M"},{"date":"2026-01-18","k":92.19,"model":"TimesFM 2.0 · 500M"},{"date":"2026-01-19","k":91.86,"model":"TimesFM 2.0 · 500M"},{"date":"2026-01-20","k":91.24,"model":"TimesFM 2.0 · 500M"},{"date":"2026-01-21","k":90.76,"model":"TimesFM 2.0 · 500M"},{"date":"2026-01-22","k":90.43,"model":"TimesFM 2.0 · 500M"},{"date":"2026-01-23","k":89.95,"model":"TimesFM 2.0 · 500M"},{"date":"2026-01-24","k":90.05,"model":"TimesFM 2.0 · 500M"},{"date":"2026-01-25","k":90.33,"model":"TimesFM 2.0 · 500M"},{"date":"2026-01-26","k":90.43,"model":"TimesFM 2.0 · 500M"},{"date":"2026-01-27","k":90.38,"model":"TimesFM 2.0 · 500M"},{"date":"2026-01-28","k":90.43,"model":"TimesFM 2.0 · 500M"},{"date":"2026-01-29","k":90.52,"model":"TimesFM 2.0 · 500M"},{"date":"2026-01-30","k":90.76,"model":"TimesFM 2.0 · 500M"},{"date":"2026-01-31","k":91.09,"model":"TimesFM 2.0 · 500M"},
{"date":"2026-02-01","k":91.24,"model":"TimesFM 2.0 · 500M"},{"date":"2026-02-02","k":91.48,"model":"TimesFM 2.0 · 500M"},{"date":"2026-02-03","k":91.71,"model":"TimesFM 2.0 · 500M"},{"date":"2026-02-04","k":92.05,"model":"TimesFM 2.0 · 500M"},{"date":"2026-02-05","k":92.9,"model":"TimesFM 2.0 · 500M"},{"date":"2026-02-06","k":93.28,"model":"TimesFM 2.0 · 500M"},{"date":"2026-02-07","k":93.62,"model":"TimesFM 2.0 · 500M"},{"date":"2026-02-08","k":93.38,"model":"TimesFM 2.0 · 500M"},{"date":"2026-02-09","k":92.67,"model":"TimesFM 2.0 · 500M"},{"date":"2026-02-10","k":91.57,"model":"TimesFM 2.0 · 500M"},{"date":"2026-02-11","k":91.38,"model":"TimesFM 2.0 · 500M"},{"date":"2026-02-12","k":91.38,"model":"TimesFM 2.0 · 500M"},{"date":"2026-02-13","k":91.38,"model":"TimesFM 2.0 · 500M"},{"date":"2026-02-14","k":91.33,"model":"TimesFM 2.0 · 500M"},{"date":"2026-02-15","k":91.38,"model":"TimesFM 2.0 · 500M"},{"date":"2026-02-16","k":91.48,"model":"TimesFM 2.0 · 500M"},{"date":"2026-02-17","k":91.95,"model":"TimesFM 2.0 · 500M"},{"date":"2026-02-18","k":92.52,"model":"TimesFM 2.0 · 500M"},{"date":"2026-02-19","k":93.0,"model":"TimesFM 2.0 · 500M"},{"date":"2026-02-20","k":93.62,"model":"TimesFM 2.0 · 500M"},{"date":"2026-02-21","k":94.19,"model":"TimesFM 2.0 · 500M"},{"date":"2026-02-22","k":94.67,"model":"TimesFM 2.0 · 500M"},{"date":"2026-02-23","k":94.9,"model":"TimesFM 2.0 · 500M"}
],
"band":[
{"date":"2025-11-16","lo":95.0,"hi":96.0},{"date":"2025-11-17","lo":93.6,"hi":100.0},{"date":"2025-11-18","lo":92.4,"hi":101.5},{"date":"2025-11-19","lo":91.2,"hi":102.7},{"date":"2025-11-20","lo":90.3,"hi":103.4},{"date":"2025-11-21","lo":89.8,"hi":104.3},{"date":"2025-11-22","lo":89.1,"hi":106.0},{"date":"2025-11-23","lo":88.6,"hi":106.7},{"date":"2025-11-24","lo":87.9,"hi":105.5},{"date":"2025-11-25","lo":87.2,"hi":104.1},{"date":"2025-11-26","lo":86.7,"hi":102.4},{"date":"2025-11-27","lo":86.2,"hi":101.7},{"date":"2025-11-28","lo":86.0,"hi":102.1},{"date":"2025-11-29","lo":85.0,"hi":103.6},{"date":"2025-11-30","lo":84.6,"hi":105.8},
{"date":"2025-12-01","lo":83.6,"hi":107.3},{"date":"2025-12-02","lo":82.9,"hi":106.5},{"date":"2025-12-03","lo":82.2,"hi":105.3},{"date":"2025-12-04","lo":82.2,"hi":105.7},{"date":"2025-12-05","lo":83.1,"hi":106.2},{"date":"2025-12-06","lo":81.5,"hi":106.2},{"date":"2025-12-07","lo":81.0,"hi":105.7},{"date":"2025-12-08","lo":86.0,"hi":106.0},{"date":"2025-12-09","lo":87.9,"hi":107.4},{"date":"2025-12-10","lo":87.4,"hi":106.5},{"date":"2025-12-11","lo":87.2,"hi":105.0},{"date":"2025-12-12","lo":87.4,"hi":105.5},{"date":"2025-12-13","lo":87.7,"hi":106.7},{"date":"2025-12-14","lo":87.0,"hi":107.7},{"date":"2025-12-15","lo":86.7,"hi":106.2},{"date":"2025-12-16","lo":86.0,"hi":105.5},{"date":"2025-12-17","lo":86.2,"hi":106.5},{"date":"2025-12-18","lo":85.8,"hi":106.8},{"date":"2025-12-19","lo":85.3,"hi":106.2},{"date":"2025-12-20","lo":85.8,"hi":106.7},{"date":"2025-12-21","lo":87.2,"hi":106.9},{"date":"2025-12-22","lo":87.4,"hi":106.2},{"date":"2025-12-23","lo":87.2,"hi":105.5},{"date":"2025-12-24","lo":87.0,"hi":105.0},{"date":"2025-12-25","lo":86.5,"hi":105.3},{"date":"2025-12-26","lo":82.9,"hi":105.7},{"date":"2025-12-27","lo":79.3,"hi":106.5},{"date":"2025-12-28","lo":80.5,"hi":107.1},{"date":"2025-12-29","lo":82.9,"hi":107.9},{"date":"2025-12-30","lo":84.6,"hi":107.6},{"date":"2025-12-31","lo":85.5,"hi":107.0},
{"date":"2026-01-01","lo":85.3,"hi":106.1},{"date":"2026-01-02","lo":84.8,"hi":105.8},{"date":"2026-01-03","lo":81.7,"hi":106.2},{"date":"2026-01-04","lo":81.2,"hi":107.0},{"date":"2026-01-05","lo":87.2,"hi":107.8},{"date":"2026-01-06","lo":86.5,"hi":108.4},{"date":"2026-01-07","lo":86.7,"hi":108.9},{"date":"2026-01-08","lo":86.5,"hi":110.8},{"date":"2026-01-09","lo":87.0,"hi":111.6},{"date":"2026-01-10","lo":87.7,"hi":112.1},{"date":"2026-01-11","lo":87.4,"hi":112.4},{"date":"2026-01-12","lo":87.0,"hi":112.1},{"date":"2026-01-13","lo":87.2,"hi":112.2},{"date":"2026-01-14","lo":87.0,"hi":112.3},{"date":"2026-01-15","lo":88.1,"hi":112.3},{"date":"2026-01-16","lo":87.9,"hi":112.3},{"date":"2026-01-17","lo":87.7,"hi":112.0},{"date":"2026-01-18","lo":87.2,"hi":108.6},{"date":"2026-01-19","lo":98.6,"hi":103.9},{"date":"2026-01-20","lo":98.6,"hi":105.3},{"date":"2026-01-21","lo":98.6,"hi":105.7},{"date":"2026-01-22","lo":98.6,"hi":106.7},{"date":"2026-01-23","lo":98.9,"hi":107.1},{"date":"2026-01-24","lo":99.1,"hi":108.6},{"date":"2026-01-25","lo":99.1,"hi":108.8},{"date":"2026-01-26","lo":98.4,"hi":107.4},{"date":"2026-01-27","lo":97.2,"hi":106.2},{"date":"2026-01-28","lo":96.0,"hi":106.5},{"date":"2026-01-29","lo":95.0,"hi":106.7},{"date":"2026-01-30","lo":94.8,"hi":107.0},{"date":"2026-01-31","lo":94.9,"hi":107.1},
{"date":"2026-02-01","lo":95.0,"hi":107.4},{"date":"2026-02-02","lo":95.0,"hi":108.4},{"date":"2026-02-03","lo":95.4,"hi":109.1},{"date":"2026-02-04","lo":95.7,"hi":110.8},{"date":"2026-02-05","lo":95.4,"hi":111.5},{"date":"2026-02-06","lo":94.8,"hi":111.7},{"date":"2026-02-07","lo":94.6,"hi":111.95},{"date":"2026-02-08","lo":94.1,"hi":112.0},{"date":"2026-02-09","lo":93.4,"hi":112.1},{"date":"2026-02-10","lo":92.7,"hi":112.5},{"date":"2026-02-11","lo":91.7,"hi":112.8},{"date":"2026-02-12","lo":89.3,"hi":113.1},{"date":"2026-02-13","lo":90.8,"hi":113.5},{"date":"2026-02-14","lo":92.0,"hi":114.3},{"date":"2026-02-15","lo":91.0,"hi":114.1},{"date":"2026-02-16","lo":88.0,"hi":114.1},{"date":"2026-02-17","lo":91.7,"hi":114.6},{"date":"2026-02-18","lo":92.7,"hi":116.5},{"date":"2026-02-19","lo":93.1,"hi":115.5},{"date":"2026-02-20","lo":93.9,"hi":115.2},{"date":"2026-02-21","lo":94.3,"hi":115.0},{"date":"2026-02-22","lo":94.6,"hi":115.0}
],
"cutoff":[{"date":"2025-11-16"}]
},
"encoding":{
"x":{"field":"date","type":"temporal","title":null,
"scale":{"type":"utc","domain":["2025-04-14T20:00:00Z","2026-03-13T20:00:00Z"]},
"axis":{"labelExpr":"utcFormat(datum.value,'%Y-%m')","tickCount":"month","grid":false,"ticks":false,"domainColor":"#dcd2c8","domainWidth":2,"labelColor":"#66605c","labelFontSize":16.3,"labelPadding":10,"labelOverlap":false,"labelFlush":false}},
"y":{"field":"k","type":"quantitative"}
},
"layer":[
{"data":{"name":"band"},"mark":{"type":"area","color":"#ff8833","opacity":0.1},
"encoding":{
"y":{"field":"lo","type":"quantitative","title":null,
"scale":{"domain":[59.86,127.86],"nice":false,"zero":false},
"axis":{"values":[60,70,80,90,100,110,120],"labelExpr":"'$' + datum.value + 'k'","domain":false,"ticks":false,"grid":true,"gridColor":"#ece1d6","gridWidth":1,"labelColor":"#66605c","labelFontSize":16.3,"labelPadding":8}},
"y2":{"field":"hi"}}},
{"data":{"name":"cutoff"},"mark":{"type":"rule","color":"#bdb3a9","strokeWidth":0.8,"strokeDash":[1,1.5]}},
{"data":{"name":"history"},"mark":{"type":"line","color":"#b8aea6","strokeWidth":1.9}},
{"data":{"name":"actual"},"mark":{"type":"line","strokeWidth":3.4,"strokeJoin":"round"},
"encoding":{
"color":{"field":"model","type":"nominal"},
"strokeDash":{"field":"model","type":"nominal"}}},
{"data":{"name":"forecasts"},"mark":{"type":"line","strokeWidth":2.8},
"encoding":{
"color":{"field":"model","type":"nominal",
"scale":{"domain":["Actual price","TimesFM 2.0 · 500M","TimesFM 2.5 · 200M","Chronos-T5 Small"],"range":["#33302e","#990f3d","#0d7680","#ff8833"]},
"legend":{"orient":"none","legendX":13,"legendY":4,"direction":"horizontal","columns":2,"title":null,"symbolType":"stroke","symbolSize":1089,"symbolStrokeWidth":3,"labelFontSize":16.5,"labelLimit":300,"labelColor":"#66605c","labelOffset":9,"columnPadding":17,"rowPadding":-3,"padding":0,"gridAlign":"each"}},
"strokeDash":{"field":"model","type":"nominal",
"scale":{"domain":["Actual price","TimesFM 2.0 · 500M","TimesFM 2.5 · 200M","Chronos-T5 Small"],"range":[[1,0],[11,3],[11,3],[11,3]]}}}}
]
}
